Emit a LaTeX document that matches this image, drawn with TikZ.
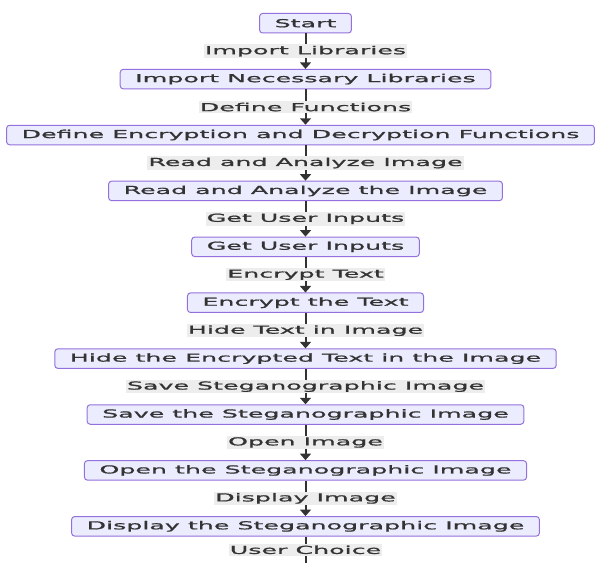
\documentclass[tikz,border=0pt]{standalone}
\usepackage{fontspec}
\newfontfamily\mmdfont[FakeStretch=2.3, FakeBold=1.2]{DejaVu Sans}
\usetikzlibrary{matrix,arrows.meta}
\definecolor{boxfill}{HTML}{ECECFF}
\definecolor{boxline}{HTML}{9370DB}
\definecolor{inkgray}{HTML}{333333}
\definecolor{lblfill}{HTML}{EDEDED}

\begin{document}
\begin{tikzpicture} [x=1pt, y=1pt,
          flowbox/.style={draw=boxline, fill=boxfill, rounded
            corners=3pt, line width=1pt, minimum height=19.5pt,
            inner xsep=15pt, inner ysep=0pt, text=inkgray,
            font=\mmdfont\fontsize{11pt}{13pt}\selectfont},
          edgelbl/.style={fill=lblfill, text=inkgray, inner xsep=1pt,
            inner ysep=1.5pt, font=\mmdfont\fontsize{11pt}{13pt}\selectfont},
          flowline/.style={draw=inkgray, line width=2pt,
            -{Triangle[width=11pt,length=6.5pt]}}]
          \useasboundingbox (0,0) rectangle (596,-563);
          \matrix(flow)[matrix of nodes, inner sep=0pt, row sep=35.4pt,
          nodes={flowbox}, anchor=north] at (300.5,-12.75) {
            Start \\
            Import Necessary Libraries \\
            |[xshift=-5pt]| Define Encryption and Decryption Functions \\
            Read and Analyze the Image \\
            Get User Inputs \\
            Encrypt the Text \\
            Hide the Encrypted Text in the Image \\
            Save the Steganographic Image \\
            Open the Steganographic Image \\
            Display the Steganographic Image \\
          };
          \coordinate (cutoff) at (flow-10-1 |- 0,-563);
          \draw[flowline] (flow-1-1) -- node[edgelbl]{Import Libraries} (flow-2-1);
          \draw[flowline] (flow-2-1) -- node[edgelbl]{Define Functions} (flow-2-1 |- flow-3-1.north);
          \draw[flowline] (flow-4-1 |- flow-3-1.south) -- node[edgelbl]{Read and Analyze Image} (flow-4-1);
          \draw[flowline] (flow-4-1) -- node[edgelbl]{Get User Inputs} (flow-5-1);
          \draw[flowline] (flow-5-1) -- node[edgelbl]{Encrypt Text} (flow-6-1);
          \draw[flowline] (flow-6-1) -- node[edgelbl]{Hide Text in Image} (flow-7-1);
          \draw[flowline] (flow-7-1) -- node[edgelbl]{Save Steganographic Image} (flow-8-1);
          \draw[flowline] (flow-8-1) -- node[edgelbl]{Open Image} (flow-9-1);
          \draw[flowline] (flow-9-1) -- node[edgelbl]{Display Image} (flow-10-1);
          \draw[flowline, -] (flow-10-1) -- node[edgelbl]{User Choice} (cutoff);
        \end{tikzpicture}
\end{document}
